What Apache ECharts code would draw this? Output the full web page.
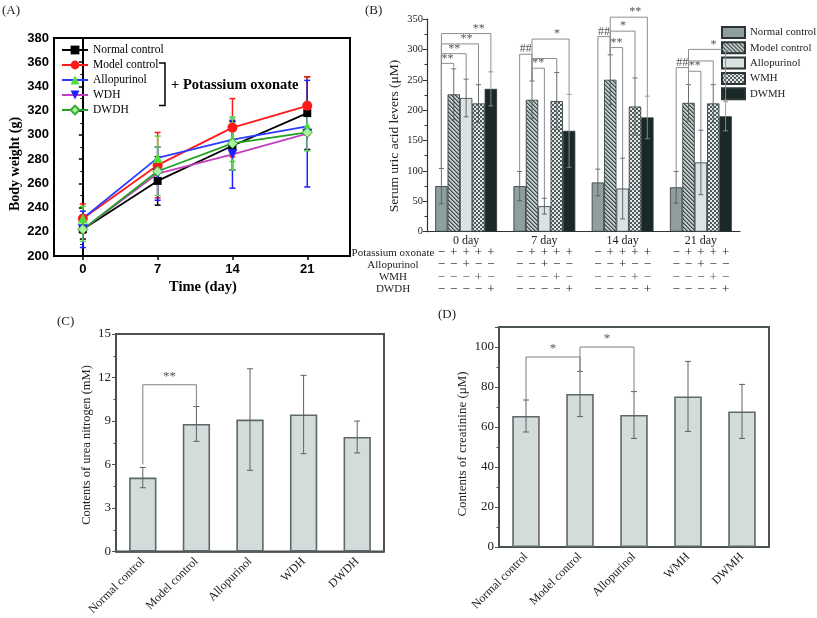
<!DOCTYPE html>
<html><head><meta charset="utf-8">
<script src="https://cdn.jsdelivr.net/npm/echarts@6/dist/echarts.min.js"></script>
<style>html,body{margin:0;padding:0;background:#fff}#c{width:817px;height:618px}</style>
</head><body><div id="c"></div>
<script>
// ---------- Panel A: body weight ----------
const daysA = [0, 7, 14, 21];
const namesA = ['Normal control', 'Model control', 'Allopurinol', 'WDH', 'DWDH'];
const weightNormal = [222, 262, 291, 318];
const weightModel  = [231, 275, 306, 324];
const weightAllo   = [231, 281, 296, 307];
const weightWDH    = [222, 268, 284, 301];
const weightDWDH   = [222, 270, 293, 302];
const errNormal = [8, 20, 20, 30];
const errModel  = [12, 27, 24, 24];
const errAllo   = [10, 18, 18, 20];
const errWDH    = [15, 22, 28, 44];
const errDWDH   = [10, 20, 22, 15];

// ---------- Panel B: serum uric acid ----------
const daysB = ['0 day', '7 day', '14 day', '21 day'];
const namesB = ['Normal control ', 'Model control ', 'Allopurinol ', 'WMH', 'DWMH'];
const uaNormal = [75, 75, 81, 73];
const uaModel  = [226, 217, 250, 212];
const uaAllo   = [220, 42, 71, 114];
const uaWMH    = [211, 215, 206, 211];
const uaDWMH   = [235, 166, 188, 190];
const uaErrNormal = [29, 24, 22, 26];
const uaErrModel  = [42, 31, 41, 30];
const uaErrAllo   = [31, 13, 50, 53];
const uaErrWMH    = [31, 47, 47, 31];
const uaErrDWMH   = [28, 60, 35, 24];
// [day index, from bar, to bar, bracket level, left end, right end]
const bracketsB = [
  [0, 0, 1, 277, 104, 270], [0, 0, 2, 293, 104, 251], [0, 0, 3, 309, 104, 242], [0, 0, 4, 326, 104, 263],
  [1, 0, 1, 292, 99, 248], [1, 1, 2, 269, 248, 55], [1, 1, 3, 285, 248, 262], [1, 1, 4, 317, 248, 226],
  [2, 0, 1, 321, 103, 290], [2, 1, 2, 303, 290, 121], [2, 1, 3, 330, 290, 253], [2, 1, 4, 353, 290, 222],
  [3, 0, 1, 270, 99, 242], [3, 1, 2, 264, 242, 167], [3, 1, 3, 281, 242, 242], [3, 1, 4, 300, 242, 214]
];
const bracketLabelsB = ['**', '**', '**', '**', '##', '**', '', '*', '##', '**', '*', '**', '##', '**', '', '*'];
const treatmentLabels = ['Potassium oxonate', 'Allopurinol', 'WMH', 'DWDH'];
const treatmentSigns = [
  ['\u2212', '+', '+', '+', '+'],
  ['\u2212', '\u2212', '+', '\u2212', '\u2212'],
  ['\u2212', '\u2212', '\u2212', '+', '\u2212'],
  ['\u2212', '\u2212', '\u2212', '\u2212', '+']
];

// ---------- Panel C: urea nitrogen ----------
const groupsC = ['Normal control', 'Model control', 'Allopurinol', 'WDH', 'DWDH'];
const ureaN   = [5.1, 8.8, 9.1, 9.45, 7.9];
const ureaErr = [0.7, 1.2, 3.5, 2.7, 1.1];
const bracketsC = [[0, 1, 11.5, 6.0, 10.0]];
const bracketLabelsC = ['**'];

// ---------- Panel D: creatinine ----------
const groupsD = ['Normal control', 'Model control', 'Allopurinol', 'WMH', 'DWMH'];
const creat    = [65.5, 76.5, 66, 75.3, 67.8];
const creatErr = [8, 11.3, 11.7, 17.5, 13.5];
const bracketsD = [[0, 1, 95, 73.5, 88], [1, 2, 100, 88, 77.7]];
const bracketLabelsD = ['*', '*'];

// ---------------------------------------------------------------
const SERIF = '"Liberation Serif", "Times New Roman", serif';
const SANS = '"Liberation Sans", Arial, sans-serif';
const catGapB = 0.21;

function pattern(size, draw) {
  const c = document.createElement('canvas');
  c.width = size; c.height = size;
  const ctx = c.getContext('2d');
  draw(ctx);
  return { image: c, repeat: 'repeat' };
}
const stripePat = pattern(4, ctx => {
  ctx.fillStyle = '#c3cccc'; ctx.fillRect(0, 0, 4, 4);
  for (let i = 0; i < 4; i++) {
    ctx.fillStyle = '#3c4747'; ctx.fillRect(i, i, 1, 1);
    ctx.fillStyle = '#7d8a8a'; ctx.fillRect((i + 1) % 4, i, 1, 1);
  }
});
const checkPat = pattern(4, ctx => {
  ctx.fillStyle = '#e2e8e8'; ctx.fillRect(0, 0, 4, 4);
  ctx.fillStyle = '#4f5a5a'; ctx.fillRect(0, 0, 2, 2); ctx.fillRect(2, 2, 2, 2);
});
const fillsB = ['#8f9e9e', stripePat, '#dbe3e3', checkPat, '#1b2828'];

function errRender(color, cap, lw, offsetFn) {
  return function (params, api) {
    const x = api.value(0), v = api.value(1), e = api.value(2);
    const t = api.coord([x, v + e]), b = api.coord([x, v - e]);
    const px = t[0] + (offsetFn ? offsetFn(api) : 0);
    const st = { stroke: color, lineWidth: lw };
    return { type: 'group', children: [
      { type: 'line', shape: { x1: px, y1: t[1], x2: px, y2: b[1] }, style: st },
      { type: 'line', shape: { x1: px - cap, y1: t[1], x2: px + cap, y2: t[1] }, style: st },
      { type: 'line', shape: { x1: px - cap, y1: b[1], x2: px + cap, y2: b[1] }, style: st }
    ] };
  };
}
function barOffset(k) {
  return function (api) {
    const band = api.size([1, 0])[0];
    const bw = band * (1 - catGapB) / 5;
    return (k - 2) * bw;
  };
}

// ---------- series ----------
const series = [];
const lineCfg = [
  { name: namesA[0], data: weightNormal, err: errNormal, line: '#000000', sym: 'rect', symColor: '#000000', size: 8, rot: 0 },
  { name: namesA[1], data: weightModel, err: errModel, line: '#ff1a1a', sym: 'circle', symColor: '#ff1a1a', size: 10, rot: 0 },
  { name: namesA[2], data: weightAllo, err: errAllo, line: '#2a3cff', sym: 'triangle', symColor: '#4ede3c', size: 10, rot: 0 },
  { name: namesA[3], data: weightWDH, err: errWDH, line: '#c23fc2', sym: 'triangle', symColor: '#1f1fff', size: 10, rot: 180 },
  { name: namesA[4], data: weightDWDH, err: errDWDH, line: '#22a022', sym: 'diamond', symColor: '#aaf29f', size: 10, rot: 0 }
];
lineCfg.forEach(c => {
  series.push({
    type: 'custom', xAxisIndex: 0, yAxisIndex: 0, silent: true, z: 2, clip: false,
    data: daysA.map((d, i) => [d, c.data[i], c.err[i]]),
    renderItem: errRender(c.symColor === '#aaf29f' ? '#66cc66' : c.symColor, 3, 1.5)
  });
});
lineCfg.forEach(c => {
  series.push({
    type: 'line', name: c.name, xAxisIndex: 0, yAxisIndex: 0, z: 3,
    data: daysA.map((d, i) => [d, c.data[i]]),
    symbol: c.sym, symbolSize: c.size, symbolRotate: c.rot, showAllSymbol: true,
    lineStyle: { color: c.line, width: 1.8 },
    itemStyle: { color: c.symColor, borderColor: c.sym === 'diamond' ? '#33aa33' : c.symColor, borderWidth: c.sym === 'diamond' ? 1 : 0 }
  });
});

const uaData = [uaNormal, uaModel, uaAllo, uaWMH, uaDWMH];
const uaErr = [uaErrNormal, uaErrModel, uaErrAllo, uaErrWMH, uaErrDWMH];
namesB.forEach((n, k) => {
  series.push({
    type: 'bar', name: n, xAxisIndex: 1, yAxisIndex: 1, data: uaData[k],
    barGap: '0%', barCategoryGap: (catGapB * 100) + '%',
    itemStyle: { color: fillsB[k], borderColor: '#2b3535', borderWidth: 0.8 }
  });
});
namesB.forEach((n, k) => {
  series.push({
    type: 'custom', xAxisIndex: 1, yAxisIndex: 1, silent: true, z: 4, clip: false,
    data: daysB.map((d, i) => [i, uaData[k][i], uaErr[k][i]]),
    renderItem: errRender(k === 4 ? '#8a9696' : '#555f5f', 2.5, 0.9, barOffset(k))
  });
});
// significance brackets B
series.push({
  type: 'custom', xAxisIndex: 1, yAxisIndex: 1, silent: true, z: 5, clip: false,
  data: bracketsB.map(b => [b[0], b[3]]),
  renderItem: function (params, api) {
    const b = bracketsB[params.dataIndex];
    const band = api.size([1, 0])[0];
    const bw = band * (1 - catGapB) / 5;
    const cx = api.coord([b[0], 0])[0];
    const x1 = cx + (b[1] - 2) * bw, x2 = cx + (b[2] - 2) * bw;
    const y = api.coord([b[0], b[3]])[1];
    const yl = api.coord([b[0], b[4]])[1], yr = api.coord([b[0], b[5]])[1];
    const lx = Math.max((x1 + x2) / 2, x2 - 12);
    return { type: 'group', children: [
      { type: 'polyline', shape: { points: [[x1, yl], [x1, y], [x2, y], [x2, yr]] }, style: { stroke: '#8a8f8f', lineWidth: 1, fill: null } },
      { type: 'text', x: lx, y: y + 1, style: { text: bracketLabelsB[params.dataIndex], font: '12px ' + SERIF, fill: '#555', align: 'center', verticalAlign: 'bottom' } }
    ] };
  }
});
// treatment table under B
series.push({
  type: 'custom', xAxisIndex: 1, yAxisIndex: 1, silent: true, z: 5, clip: false,
  data: daysB.map((d, i) => [i, 0]),
  renderItem: function (params, api) {
    const band = api.size([1, 0])[0];
    const bw = band * (1 - catGapB) / 5;
    const p = api.coord([api.value(0), 0]);
    const children = [];
    treatmentSigns.forEach((row, r) => {
      row.forEach((s, k) => {
        children.push({ type: 'text', x: p[0] + (k - 2) * bw, y: p[1] + 21 + r * 12.3,
          style: { text: s, font: '13px ' + SERIF, fill: r === 2 ? '#555' : '#222', align: 'center', verticalAlign: 'middle' } });
      });
    });
    return { type: 'group', children };
  }
});

function simpleBrackets(list, labels, xi) {
  return {
    type: 'custom', xAxisIndex: xi, yAxisIndex: xi, silent: true, z: 5, clip: false,
    data: list.map(b => [b[0], b[2]]),
    renderItem: function (params, api) {
      const b = list[params.dataIndex];
      const x1 = api.coord([b[0], 0])[0], x2 = api.coord([b[1], 0])[0];
      const y = api.coord([b[0], b[2]])[1];
      const yl = api.coord([b[0], b[3]])[1], yr = api.coord([b[1], b[4]])[1];
      return { type: 'group', children: [
        { type: 'polyline', shape: { points: [[x1, yl], [x1, y], [x2, y], [x2, yr]] }, style: { stroke: '#7a8080', lineWidth: 1, fill: null } },
        { type: 'text', x: (x1 + x2) / 2, y: y - 2, style: { text: labels[params.dataIndex], font: '13px ' + SERIF, fill: '#555', align: 'center', verticalAlign: 'bottom' } }
      ] };
    }
  };
}
const cdBar = { color: '#d3dcdb', borderColor: '#5f6868', borderWidth: 1.6 };
series.push({ type: 'bar', name: 'urea', xAxisIndex: 2, yAxisIndex: 2, data: ureaN, barCategoryGap: '49%', itemStyle: cdBar });
series.push({ type: 'custom', xAxisIndex: 2, yAxisIndex: 2, silent: true, z: 4, clip: false,
  data: ureaN.map((v, i) => [i, v, ureaErr[i]]), renderItem: errRender('#5a6262', 3, 1) });
series.push(simpleBrackets(bracketsC, bracketLabelsC, 2));
series.push({ type: 'bar', name: 'creat', xAxisIndex: 3, yAxisIndex: 3, data: creat, barCategoryGap: '49%', itemStyle: cdBar });
series.push({ type: 'custom', xAxisIndex: 3, yAxisIndex: 3, silent: true, z: 4, clip: false,
  data: creat.map((v, i) => [i, v, creatErr[i]]), renderItem: errRender('#5a6262', 3, 1) });
series.push(simpleBrackets(bracketsD, bracketLabelsD, 3));

// ---------- axes ----------
const serifLabel = (size) => ({ fontFamily: SERIF, fontSize: size, color: '#222' });
const option = {
  animation: false,
  backgroundColor: '#fff',
  grid: [
    { left: 54, top: 38, width: 296, height: 218, show: true, borderColor: '#000', borderWidth: 2, backgroundColor: 'transparent' },
    { left: 427, top: 19, width: 313, height: 212.7 },
    { left: 116, top: 334, width: 268, height: 218, show: true, borderColor: '#4a5252', borderWidth: 2, backgroundColor: 'transparent' },
    { left: 499, top: 327, width: 270, height: 220, show: true, borderColor: '#4a5252', borderWidth: 2, backgroundColor: 'transparent' }
  ],
  xAxis: [
    { type: 'value', gridIndex: 0, min: -2.7, max: 25, splitLine: { show: false },
      axisLine: { lineStyle: { color: '#000', width: 2 } },
      axisTick: { customValues: daysA, length: 4, lineStyle: { color: '#000', width: 1.5 } },
      axisLabel: { customValues: daysA, fontFamily: SANS, fontWeight: 'bold', fontSize: 13, color: '#000', margin: 7 } },
    { type: 'category', gridIndex: 1, data: daysB,
      axisLine: { lineStyle: { color: '#333', width: 1.2 } }, axisTick: { show: false },
      axisLabel: Object.assign(serifLabel(12), { margin: 3 }) },
    { type: 'category', gridIndex: 2, data: groupsC,
      axisLine: { lineStyle: { color: '#4a5252', width: 1.5 } },
      axisTick: { alignWithLabel: true, inside: true, length: 4, lineStyle: { color: '#4a5252' } },
      axisLabel: Object.assign(serifLabel(12), { rotate: 45, margin: 8, interval: 0 }) },
    { type: 'category', gridIndex: 3, data: groupsD,
      axisLine: { lineStyle: { color: '#4a5252', width: 1.5 } },
      axisTick: { alignWithLabel: true, inside: true, length: 4, lineStyle: { color: '#4a5252' } },
      axisLabel: Object.assign(serifLabel(12), { rotate: 45, margin: 8, interval: 0 }) }
  ],
  yAxis: [
    { type: 'value', gridIndex: 0, min: 200, max: 380, interval: 20, splitLine: { show: false },
      axisLine: { show: true, lineStyle: { color: '#000', width: 2 } },
      axisTick: { show: true, length: 4, lineStyle: { color: '#000', width: 1.5 } },
      minorTick: { show: true, splitNumber: 2, length: 2.5, lineStyle: { color: '#000', width: 1 } },
      axisLabel: { fontFamily: SANS, fontWeight: 'bold', fontSize: 13, color: '#000', margin: 5 } },
    { type: 'value', gridIndex: 1, min: 0, max: 350, interval: 50, splitLine: { show: false },
      axisLine: { show: true, lineStyle: { color: '#333', width: 1.2 } },
      axisTick: { show: true, length: 4, lineStyle: { color: '#333' } },
      minorTick: { show: true, splitNumber: 2, length: 2.5, lineStyle: { color: '#333' } },
      axisLabel: Object.assign(serifLabel(10.5), { margin: 4 }) },
    { type: 'value', gridIndex: 2, min: 0, max: 15, interval: 3, splitLine: { show: false },
      axisLine: { show: true, lineStyle: { color: '#4a5252', width: 1.5 } },
      axisTick: { show: true, length: 4, lineStyle: { color: '#4a5252' } },
      minorTick: { show: true, splitNumber: 2, length: 2.5, lineStyle: { color: '#4a5252' } },
      axisLabel: Object.assign(serifLabel(13), { margin: 5 }) },
    { type: 'value', gridIndex: 3, min: 0, max: 110, interval: 20, splitLine: { show: false },
      axisLine: { show: true, lineStyle: { color: '#4a5252', width: 1.5 } },
      axisTick: { show: true, length: 4, lineStyle: { color: '#4a5252' } },
      minorTick: { show: true, splitNumber: 2, length: 2.5, lineStyle: { color: '#4a5252' } },
      axisLabel: Object.assign(serifLabel(13), { margin: 5, formatter: v => (v > 100 ? '' : String(v)) }) }
  ],
  legend: [
    { data: namesA, orient: 'vertical', left: 61, top: 44, padding: 0, itemGap: 3, itemWidth: 26, itemHeight: 11,
      textStyle: { fontFamily: SERIF, fontSize: 11.5, color: '#000' }, selectedMode: false },
    { data: namesB, orient: 'vertical', left: 721, top: 26, padding: 0, itemGap: 2.3, itemWidth: 23, itemHeight: 11, icon: 'rect',
      textStyle: { fontFamily: SERIF, fontSize: 10.8, color: '#222', overflow: 'none', width: 90 }, selectedMode: false }
  ],
  graphic: [
    { type: 'text', x: 2, y: 11, style: { text: '(A)', font: '13px ' + SERIF, fill: '#222', verticalAlign: 'middle' } },
    { type: 'text', x: 365, y: 11, style: { text: '(B)', font: '13px ' + SERIF, fill: '#222', verticalAlign: 'middle' } },
    { type: 'text', x: 57, y: 322, style: { text: '(C)', font: '13px ' + SERIF, fill: '#222', verticalAlign: 'middle' } },
    { type: 'text', x: 438, y: 315, style: { text: '(D)', font: '13px ' + SERIF, fill: '#222', verticalAlign: 'middle' } },
    { type: 'text', x: 15, y: 164, rotation: Math.PI / 2, style: { text: 'Body weight (g)', font: 'bold 14px ' + SERIF, fill: '#000', align: 'center', verticalAlign: 'middle' } },
    { type: 'text', x: 203, y: 287, style: { text: 'Time (day)', font: 'bold 14.5px ' + SERIF, fill: '#000', align: 'center', verticalAlign: 'middle' } },
    { type: 'text', x: 394, y: 136, rotation: Math.PI / 2, style: { text: 'Serum uric acid levers (\u03bcM)', font: '13.5px ' + SERIF, fill: '#222', align: 'center', verticalAlign: 'middle' } },
    { type: 'text', x: 87, y: 445, rotation: Math.PI / 2, style: { text: 'Contents of urea nitrogen (mM)', font: '12.5px ' + SERIF, fill: '#222', align: 'center', verticalAlign: 'middle' } },
    { type: 'text', x: 463, y: 444, rotation: Math.PI / 2, style: { text: 'Contents of creatinine (\u03bcM)', font: '13px ' + SERIF, fill: '#222', align: 'center', verticalAlign: 'middle' } },
    { type: 'polyline', shape: { points: [[159, 63], [165, 63], [165, 105.5], [159, 105.5]] }, style: { stroke: '#000', lineWidth: 1.5, fill: null } },
    { type: 'text', x: 171, y: 85, style: { text: '+ Potassium oxonate', font: 'bold 14.5px ' + SERIF, fill: '#000', verticalAlign: 'middle' } }
  ].concat(treatmentLabels.map((t, r) => ({
    type: 'text', x: 393, y: 252.7 + r * 12.3,
    style: { text: t, font: '11px ' + SERIF, fill: '#222', align: 'center', verticalAlign: 'middle' }
  }))),
  series: series
};
const chart = echarts.init(document.getElementById('c'), null, { renderer: 'canvas' });
chart.setOption(option);
</script></body></html>
